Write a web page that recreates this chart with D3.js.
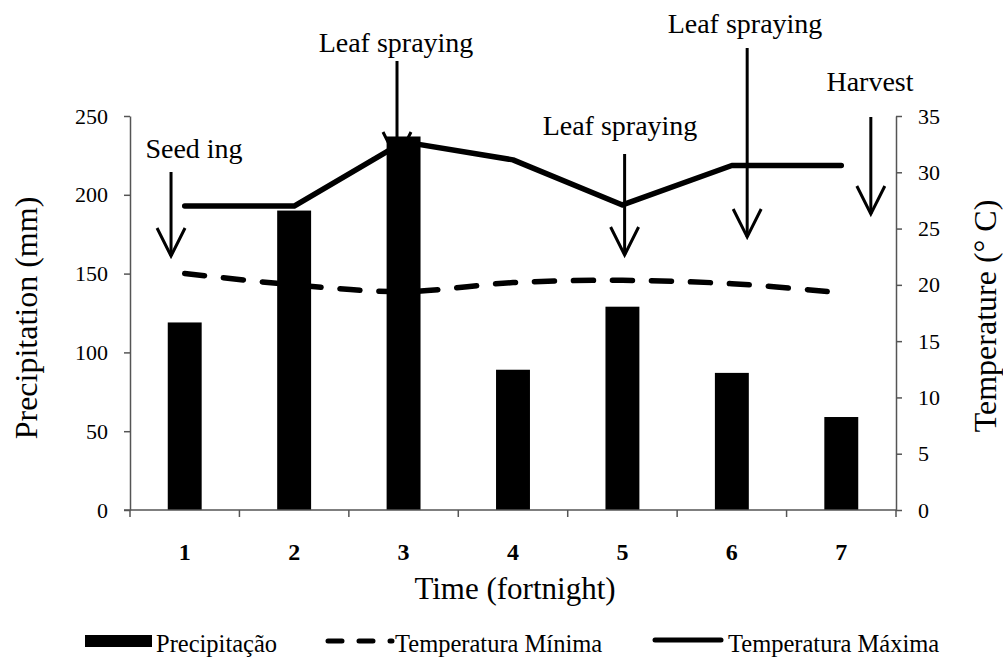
<!DOCTYPE html>
<html>
<head>
<meta charset="utf-8">
<script src="https://cdn.jsdelivr.net/npm/d3@7"></script>
<style>
  body { margin: 0; background: #fff; }
  svg text { font-family: "Liberation Serif", "DejaVu Serif", serif; fill: #000; }
</style>
</head>
<body>
<div id="chart"></div>
<script>
// data
var fortnights = ["1", "2", "3", "4", "5", "6", "7"];
var precip = [119, 190, 237, 89, 129, 87, 59];          // mm
var tempMax = [27.0, 27.0, 32.7, 31.1, 27.1, 30.6, 30.6]; // deg C
var tempMin = [21.0, 20.0, 19.4, 20.2, 20.4, 20.1, 19.3]; // deg C
var precipTicks = [0, 50, 100, 150, 200, 250];
var tempTicks = [0, 5, 10, 15, 20, 25, 30, 35];
var events = ["Seed ing", "Leaf spraying", "Leaf spraying", "Leaf spraying", "Harvest"];
var eventAt = [0.875, 2.94, 5.02, 6.14, 7.27]; // in fortnights
var legendLabels = ["Precipitação", "Temperatura Mínima", "Temperatura Máxima"];

var width = 1003, height = 657;
var plotLeft = 130, plotRight = 896, plotTop = 116, plotBottom = 510;

var svg = d3.select("#chart").append("svg")
  .attr("width", width)
  .attr("height", height);

var x = d3.scaleBand()
  .domain(fortnights)
  .range([plotLeft, plotRight])
  .padding(0);

// continuous version of the x scale for the event arrows
var xc = d3.scaleLinear().domain([0.5, 7.5]).range([plotLeft, plotRight]);

var yP = d3.scaleLinear().domain([0, 250]).range([plotBottom, plotTop]);
var yT = d3.scaleLinear().domain([0, 35]).range([plotBottom, plotTop]);

var axisColor = "#555";

// bars
var barW = x.bandwidth() * 0.31;
svg.append("g")
  .selectAll("rect")
  .data(precip)
  .enter().append("rect")
    .attr("x", function(d, i) { return x(fortnights[i]) + x.bandwidth() / 2 - barW / 2; })
    .attr("y", function(d) { return yP(d); })
    .attr("width", barW)
    .attr("height", function(d) { return yP(0) - yP(d); })
    .attr("fill", "#000");

// left axis
var gL = svg.append("g")
  .attr("transform", "translate(" + plotLeft + ",0)")
  .call(d3.axisLeft(yP).tickValues(precipTicks).tickSize(6).tickSizeOuter(0));
gL.selectAll("text").style("font-size", "22px").attr("x", -22);

// right axis
var gR = svg.append("g")
  .attr("transform", "translate(" + plotRight + ",0)")
  .call(d3.axisRight(yT).tickValues(tempTicks).tickSize(6).tickSizeOuter(0));
gR.selectAll("text").style("font-size", "22px").attr("x", 22);

// bottom axis, ticks at band boundaries
var gB = svg.append("g")
  .attr("transform", "translate(0," + plotBottom + ")");
gB.append("line")
  .attr("x1", plotLeft - 6).attr("x2", plotRight)
  .attr("stroke", axisColor).attr("stroke-width", 1.5);
gB.selectAll(".tk")
  .data(d3.range(fortnights.length + 1))
  .enter().append("line")
    .attr("x1", function(i) { return plotLeft + i * x.step(); })
    .attr("x2", function(i) { return plotLeft + i * x.step(); })
    .attr("y1", 0).attr("y2", 7)
    .attr("stroke", axisColor).attr("stroke-width", 1.5);
gB.selectAll(".lb")
  .data(fortnights)
  .enter().append("text")
    .attr("x", function(d) { return x(d) + x.bandwidth() / 2; })
    .attr("y", 50)
    .attr("text-anchor", "middle")
    .style("font-size", "24px")
    .style("font-weight", "bold")
    .text(function(d) { return d; });

[gL, gR].forEach(function(g) {
  g.select(".domain").attr("stroke", axisColor).attr("stroke-width", 1.5);
  g.selectAll(".tick line").attr("stroke", axisColor).attr("stroke-width", 1.5);
  g.attr("font-family", null);
  g.selectAll("text").attr("fill", "#000");
});

// axis titles
svg.append("text")
  .attr("transform", "translate(37,318) rotate(-90)")
  .attr("text-anchor", "middle")
  .style("font-size", "32px")
  .text("Precipitation (mm)");

svg.append("text")
  .attr("transform", "translate(996,316) rotate(-90)")
  .attr("text-anchor", "middle")
  .style("font-size", "32px")
  .text("Temperature (° C)");

svg.append("text")
  .attr("x", 515).attr("y", 599)
  .attr("text-anchor", "middle")
  .style("font-size", "31px")
  .text("Time (fortnight)");

// temperature lines
var cx = function(d, i) { return x(fortnights[i]) + x.bandwidth() / 2; };

svg.append("path")
  .datum(tempMin)
  .attr("fill", "none")
  .attr("stroke", "#000")
  .attr("stroke-width", 5.5)
  .attr("stroke-linecap", "round")
  .attr("stroke-dasharray", "20,19")
  .attr("d", d3.line().x(cx).y(function(d) { return yT(d); }).curve(d3.curveCatmullRom));

svg.append("path")
  .datum(tempMax)
  .attr("fill", "none")
  .attr("stroke", "#000")
  .attr("stroke-width", 5.5)
  .attr("stroke-linecap", "round")
  .attr("stroke-linejoin", "round")
  .attr("d", d3.line().x(cx).y(function(d) { return yT(d); }));

// event arrows: label baseline, arrow top, arrow tip (px)
var arrowLayout = [
  {tx: 194, ty: 158, y1: 172, y2: 256},
  {tx: 396, ty: 52, y1: 61, y2: 160},
  {tx: 620, ty: 135, y1: 154, y2: 255},
  {tx: 745, ty: 33, y1: 48, y2: 237},
  {tx: 870, ty: 91, y1: 117, y2: 214}
];

var gA = svg.append("g");
events.forEach(function(lbl, i) {
  var L = arrowLayout[i], ax = xc(eventAt[i]);
  gA.append("text")
    .attr("x", L.tx).attr("y", L.ty)
    .attr("text-anchor", "middle")
    .style("font-size", "28px")
    .text(lbl);
  gA.append("line")
    .attr("x1", ax).attr("x2", ax)
    .attr("y1", L.y1).attr("y2", L.y2)
    .attr("stroke", "#000").attr("stroke-width", 3);
  gA.append("path")
    .attr("d", "M" + (ax - 14) + "," + (L.y2 - 28) + "L" + ax + "," + L.y2 + "L" + (ax + 14) + "," + (L.y2 - 28))
    .attr("fill", "none")
    .attr("stroke", "#000").attr("stroke-width", 3)
    .attr("stroke-linejoin", "miter");
});

// legend
var gLeg = svg.append("g");
gLeg.append("rect")
  .attr("x", 85).attr("y", 635).attr("width", 67).attr("height", 12)
  .attr("fill", "#000");
gLeg.append("text").attr("x", 156).attr("y", 652).style("font-size", "24.5px").text(legendLabels[0]);

gLeg.append("line")
  .attr("x1", 328).attr("x2", 392).attr("y1", 641).attr("y2", 641)
  .attr("stroke", "#000").attr("stroke-width", 5)
  .attr("stroke-linecap", "round")
  .attr("stroke-dasharray", "14,17");
gLeg.append("text").attr("x", 395).attr("y", 652).style("font-size", "24.5px").text(legendLabels[1]);

gLeg.append("line")
  .attr("x1", 655).attr("x2", 721).attr("y1", 640).attr("y2", 640)
  .attr("stroke", "#000").attr("stroke-width", 5)
  .attr("stroke-linecap", "round");
gLeg.append("text").attr("x", 728).attr("y", 652).style("font-size", "24.5px").text(legendLabels[2]);
</script>
</body>
</html>
